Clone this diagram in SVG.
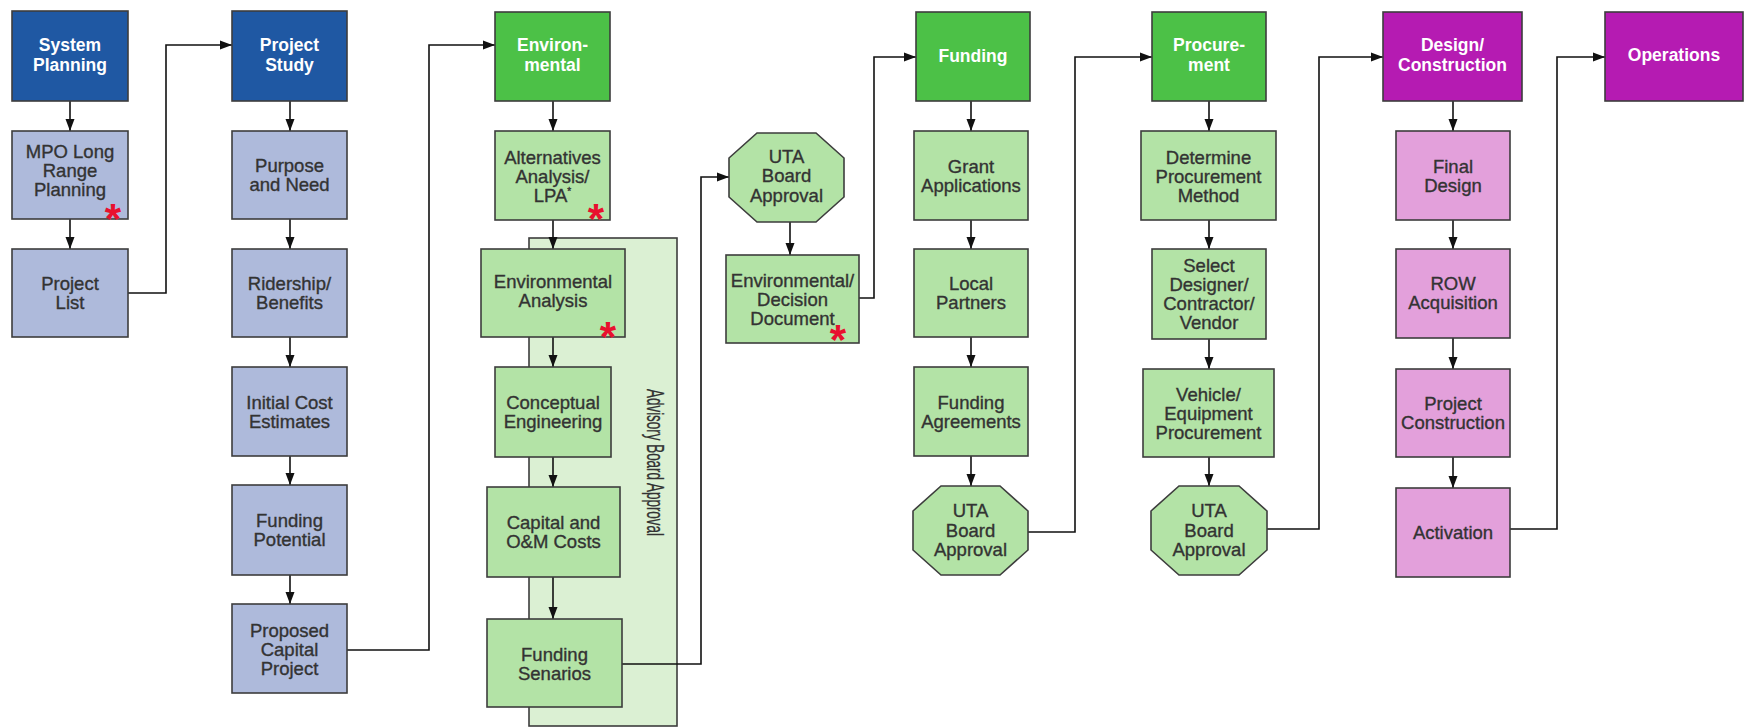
<svg xmlns="http://www.w3.org/2000/svg" width="1748" height="728" viewBox="0 0 1748 728">
<defs>
<marker id="arr" markerUnits="userSpaceOnUse" markerWidth="12" markerHeight="10" refX="12" refY="5" orient="auto">
<path d="M0,0.5 L12,5 L0,9.5 z" fill="#111"/>
</marker>
</defs>
<style>
.box{stroke:#3d3d3d;stroke-width:1.6}
.hb{fill:#1f58a3}.lb{fill:#aebadb}
.hg{fill:#4cc147}.lg{fill:#b3e3a6}
.hm{fill:#b51bb2}.lm{fill:#e3a0db}
.panel{fill:#dbf0d3;stroke:#3d3d3d;stroke-width:1.6}
.ht{font-family:"Liberation Sans",Arial,sans-serif;font-size:17.5px;font-weight:bold;fill:#fff;text-anchor:middle}
.bt{font-family:"Liberation Sans",Arial,sans-serif;font-size:18.5px;fill:#333;stroke:#333;stroke-width:0.35;text-anchor:middle}
.vt{font-family:"Liberation Sans",Arial,sans-serif;font-size:24px;fill:#333;stroke:#333;stroke-width:0.3;text-anchor:middle}
.star{font-family:"Liberation Sans",Arial,sans-serif;font-size:42px;font-weight:bold;fill:#e8102e;text-anchor:middle}
.con{fill:none;stroke:#111;stroke-width:1.6}
</style>
<rect width="1748" height="728" fill="#fff"/>

<g id="advisory-board-approval">
<rect class="panel" x="529" y="238" width="148" height="488"/>
<text class="vt" transform="translate(647,462.5) rotate(90)" textLength="147" lengthAdjust="spacingAndGlyphs">Advisory Board Approval</text>
</g>

<g id="connectors">
<path class="con" marker-end="url(#arr)" d="M70,101 V131"/>
<path class="con" marker-end="url(#arr)" d="M70,219 V249"/>
<path class="con" marker-end="url(#arr)" d="M128,293 H166 V45 H232"/>
<path class="con" marker-end="url(#arr)" d="M290,101 V131"/>
<path class="con" marker-end="url(#arr)" d="M290,219 V249"/>
<path class="con" marker-end="url(#arr)" d="M290,337 V367"/>
<path class="con" marker-end="url(#arr)" d="M290,456 V485"/>
<path class="con" marker-end="url(#arr)" d="M290,575 V604"/>
<path class="con" marker-end="url(#arr)" d="M347,650 H429 V45 H495"/>
<path class="con" marker-end="url(#arr)" d="M553,101 V131"/>
<path class="con" marker-end="url(#arr)" d="M553,220 V249"/>
<path class="con" marker-end="url(#arr)" d="M553,337 V367"/>
<path class="con" marker-end="url(#arr)" d="M553,457 V487"/>
<path class="con" marker-end="url(#arr)" d="M553,577 V619"/>
<path class="con" marker-end="url(#arr)" d="M622,664 H701 V177 H729"/>
<path class="con" marker-end="url(#arr)" d="M790,222 V255"/>
<path class="con" marker-end="url(#arr)" d="M859,298 H874 V57 H916"/>
<path class="con" marker-end="url(#arr)" d="M971,101 V131"/>
<path class="con" marker-end="url(#arr)" d="M971,220 V249"/>
<path class="con" marker-end="url(#arr)" d="M971,337 V367"/>
<path class="con" marker-end="url(#arr)" d="M971,456 V486"/>
<path class="con" marker-end="url(#arr)" d="M1028,532 H1075 V57 H1152"/>
<path class="con" marker-end="url(#arr)" d="M1209,101 V131"/>
<path class="con" marker-end="url(#arr)" d="M1209,220 V249"/>
<path class="con" marker-end="url(#arr)" d="M1209,339 V369"/>
<path class="con" marker-end="url(#arr)" d="M1209,457 V486"/>
<path class="con" marker-end="url(#arr)" d="M1267,529 H1319 V57 H1383"/>
<path class="con" marker-end="url(#arr)" d="M1453,101 V131"/>
<path class="con" marker-end="url(#arr)" d="M1453,220 V249"/>
<path class="con" marker-end="url(#arr)" d="M1453,338 V369"/>
<path class="con" marker-end="url(#arr)" d="M1453,457 V488"/>
<path class="con" marker-end="url(#arr)" d="M1510,529 H1557 V57 H1605"/>
</g>

<g id="system-planning"><rect class="box hb" x="12" y="11" width="116" height="90"/>
<text class="ht"><tspan x="70" y="51">System</tspan><tspan x="70" y="71">Planning</tspan></text></g>
<g id="mpo-long-range-planning"><rect class="box lb" x="12" y="131" width="116" height="88"/>
<text class="bt"><tspan x="70" y="158">MPO Long</tspan><tspan x="70" y="177">Range</tspan><tspan x="70" y="196">Planning</tspan></text>
<text class="star" x="113" y="233">*</text></g>
<g id="project-list"><rect class="box lb" x="12" y="249" width="116" height="88"/>
<text class="bt"><tspan x="70" y="290">Project</tspan><tspan x="70" y="309">List</tspan></text></g>

<g id="project-study"><rect class="box hb" x="232" y="11" width="115" height="90"/>
<text class="ht"><tspan x="289.5" y="51">Project</tspan><tspan x="289.5" y="71">Study</tspan></text></g>
<g id="purpose-and-need"><rect class="box lb" x="232" y="131" width="115" height="88"/>
<text class="bt"><tspan x="289.5" y="172">Purpose</tspan><tspan x="289.5" y="191">and Need</tspan></text></g>
<g id="ridership-benefits"><rect class="box lb" x="232" y="249" width="115" height="88"/>
<text class="bt"><tspan x="289.5" y="290">Ridership/</tspan><tspan x="289.5" y="309">Benefits</tspan></text></g>
<g id="initial-cost-estimates"><rect class="box lb" x="232" y="367" width="115" height="89"/>
<text class="bt"><tspan x="289.5" y="408.5">Initial Cost</tspan><tspan x="289.5" y="427.5">Estimates</tspan></text></g>
<g id="funding-potential"><rect class="box lb" x="232" y="485" width="115" height="90"/>
<text class="bt"><tspan x="289.5" y="527">Funding</tspan><tspan x="289.5" y="546">Potential</tspan></text></g>
<g id="proposed-capital-project"><rect class="box lb" x="232" y="604" width="115" height="89"/>
<text class="bt"><tspan x="289.5" y="636.5">Proposed</tspan><tspan x="289.5" y="655.5">Capital</tspan><tspan x="289.5" y="674.5">Project</tspan></text></g>

<g id="environmental"><rect class="box hg" x="495" y="12" width="115" height="89"/>
<text class="ht"><tspan x="552.5" y="51">Environ-</tspan><tspan x="552.5" y="71">mental</tspan></text></g>
<g id="alternatives-analysis"><rect class="box lg" x="495" y="131" width="115" height="89"/>
<text class="bt"><tspan x="552.5" y="164">Alternatives</tspan><tspan x="552.5" y="183">Analysis/</tspan><tspan x="552.5" y="202">LPA<tspan font-size="10" dy="-7">*</tspan></tspan></text>
<text class="star" x="596" y="233">*</text></g>
<g id="environmental-analysis"><rect class="box lg" x="481" y="249" width="144" height="88"/>
<text class="bt"><tspan x="553" y="288">Environmental</tspan><tspan x="553" y="307">Analysis</tspan></text>
<text class="star" x="608" y="351">*</text></g>
<g id="conceptual-engineering"><rect class="box lg" x="495" y="367" width="116" height="90"/>
<text class="bt"><tspan x="553" y="409">Conceptual</tspan><tspan x="553" y="428">Engineering</tspan></text></g>
<g id="capital-om-costs"><rect class="box lg" x="487" y="487" width="133" height="90"/>
<text class="bt"><tspan x="553.5" y="529">Capital and</tspan><tspan x="553.5" y="548">O&amp;M Costs</tspan></text></g>
<g id="funding-senarios"><rect class="box lg" x="487" y="619" width="135" height="88"/>
<text class="bt"><tspan x="554.5" y="661">Funding</tspan><tspan x="554.5" y="680">Senarios</tspan></text></g>

<g id="uta-board-approval-1"><polygon class="box lg" points="757,133 816,133 844,158 844,197 816,222 757,222 729,197 729,158"/>
<text class="bt"><tspan x="786.5" y="162.5">UTA</tspan><tspan x="786.5" y="182">Board</tspan><tspan x="786.5" y="201.5">Approval</tspan></text></g>
<g id="environmental-decision-document"><rect class="box lg" x="726" y="255" width="133" height="88"/>
<text class="bt"><tspan x="792.5" y="287">Environmental/</tspan><tspan x="792.5" y="306">Decision</tspan><tspan x="792.5" y="325">Document</tspan></text>
<text class="star" x="838" y="354">*</text></g>

<g id="funding"><rect class="box hg" x="916" y="12" width="114" height="89"/>
<text class="ht" x="973" y="62">Funding</text></g>
<g id="grant-applications"><rect class="box lg" x="914" y="131" width="114" height="89"/>
<text class="bt"><tspan x="971" y="172.5">Grant</tspan><tspan x="971" y="191.5">Applications</tspan></text></g>
<g id="local-partners"><rect class="box lg" x="914" y="249" width="114" height="88"/>
<text class="bt"><tspan x="971" y="290">Local</tspan><tspan x="971" y="309">Partners</tspan></text></g>
<g id="funding-agreements"><rect class="box lg" x="914" y="367" width="114" height="89"/>
<text class="bt"><tspan x="971" y="408.5">Funding</tspan><tspan x="971" y="427.5">Agreements</tspan></text></g>
<g id="uta-board-approval-2"><polygon class="box lg" points="941,486 1000,486 1028,511 1028,550 1000,575 941,575 913,550 913,511"/>
<text class="bt"><tspan x="970.5" y="517">UTA</tspan><tspan x="970.5" y="536.5">Board</tspan><tspan x="970.5" y="556">Approval</tspan></text></g>

<g id="procurement"><rect class="box hg" x="1152" y="12" width="114" height="89"/>
<text class="ht"><tspan x="1209" y="51">Procure-</tspan><tspan x="1209" y="71">ment</tspan></text></g>
<g id="determine-procurement-method"><rect class="box lg" x="1141" y="131" width="135" height="89"/>
<text class="bt"><tspan x="1208.5" y="163.5">Determine</tspan><tspan x="1208.5" y="182.5">Procurement</tspan><tspan x="1208.5" y="201.5">Method</tspan></text></g>
<g id="select-designer"><rect class="box lg" x="1152" y="249" width="114" height="90"/>
<text class="bt"><tspan x="1209" y="272">Select</tspan><tspan x="1209" y="291">Designer/</tspan><tspan x="1209" y="310">Contractor/</tspan><tspan x="1209" y="329">Vendor</tspan></text></g>
<g id="vehicle-equipment-procurement"><rect class="box lg" x="1143" y="369" width="131" height="88"/>
<text class="bt"><tspan x="1208.5" y="401">Vehicle/</tspan><tspan x="1208.5" y="420">Equipment</tspan><tspan x="1208.5" y="439">Procurement</tspan></text></g>
<g id="uta-board-approval-3"><polygon class="box lg" points="1179,486 1239,486 1267,511 1267,550 1239,575 1179,575 1151,550 1151,511"/>
<text class="bt"><tspan x="1209" y="517">UTA</tspan><tspan x="1209" y="536.5">Board</tspan><tspan x="1209" y="556">Approval</tspan></text></g>

<g id="design-construction"><rect class="box hm" x="1383" y="12" width="139" height="89"/>
<text class="ht"><tspan x="1452.5" y="51">Design/</tspan><tspan x="1452.5" y="71">Construction</tspan></text></g>
<g id="final-design"><rect class="box lm" x="1396" y="131" width="114" height="89"/>
<text class="bt"><tspan x="1453" y="172.5">Final</tspan><tspan x="1453" y="191.5">Design</tspan></text></g>
<g id="row-acquisition"><rect class="box lm" x="1396" y="249" width="114" height="89"/>
<text class="bt"><tspan x="1453" y="290">ROW</tspan><tspan x="1453" y="309">Acquisition</tspan></text></g>
<g id="project-construction"><rect class="box lm" x="1396" y="369" width="114" height="88"/>
<text class="bt"><tspan x="1453" y="410">Project</tspan><tspan x="1453" y="429">Construction</tspan></text></g>
<g id="activation"><rect class="box lm" x="1396" y="488" width="114" height="89"/>
<text class="bt" x="1453" y="539">Activation</text></g>

<g id="operations"><rect class="box hm" x="1605" y="12" width="138" height="89"/>
<text class="ht" x="1674" y="61">Operations</text></g>
</svg>
